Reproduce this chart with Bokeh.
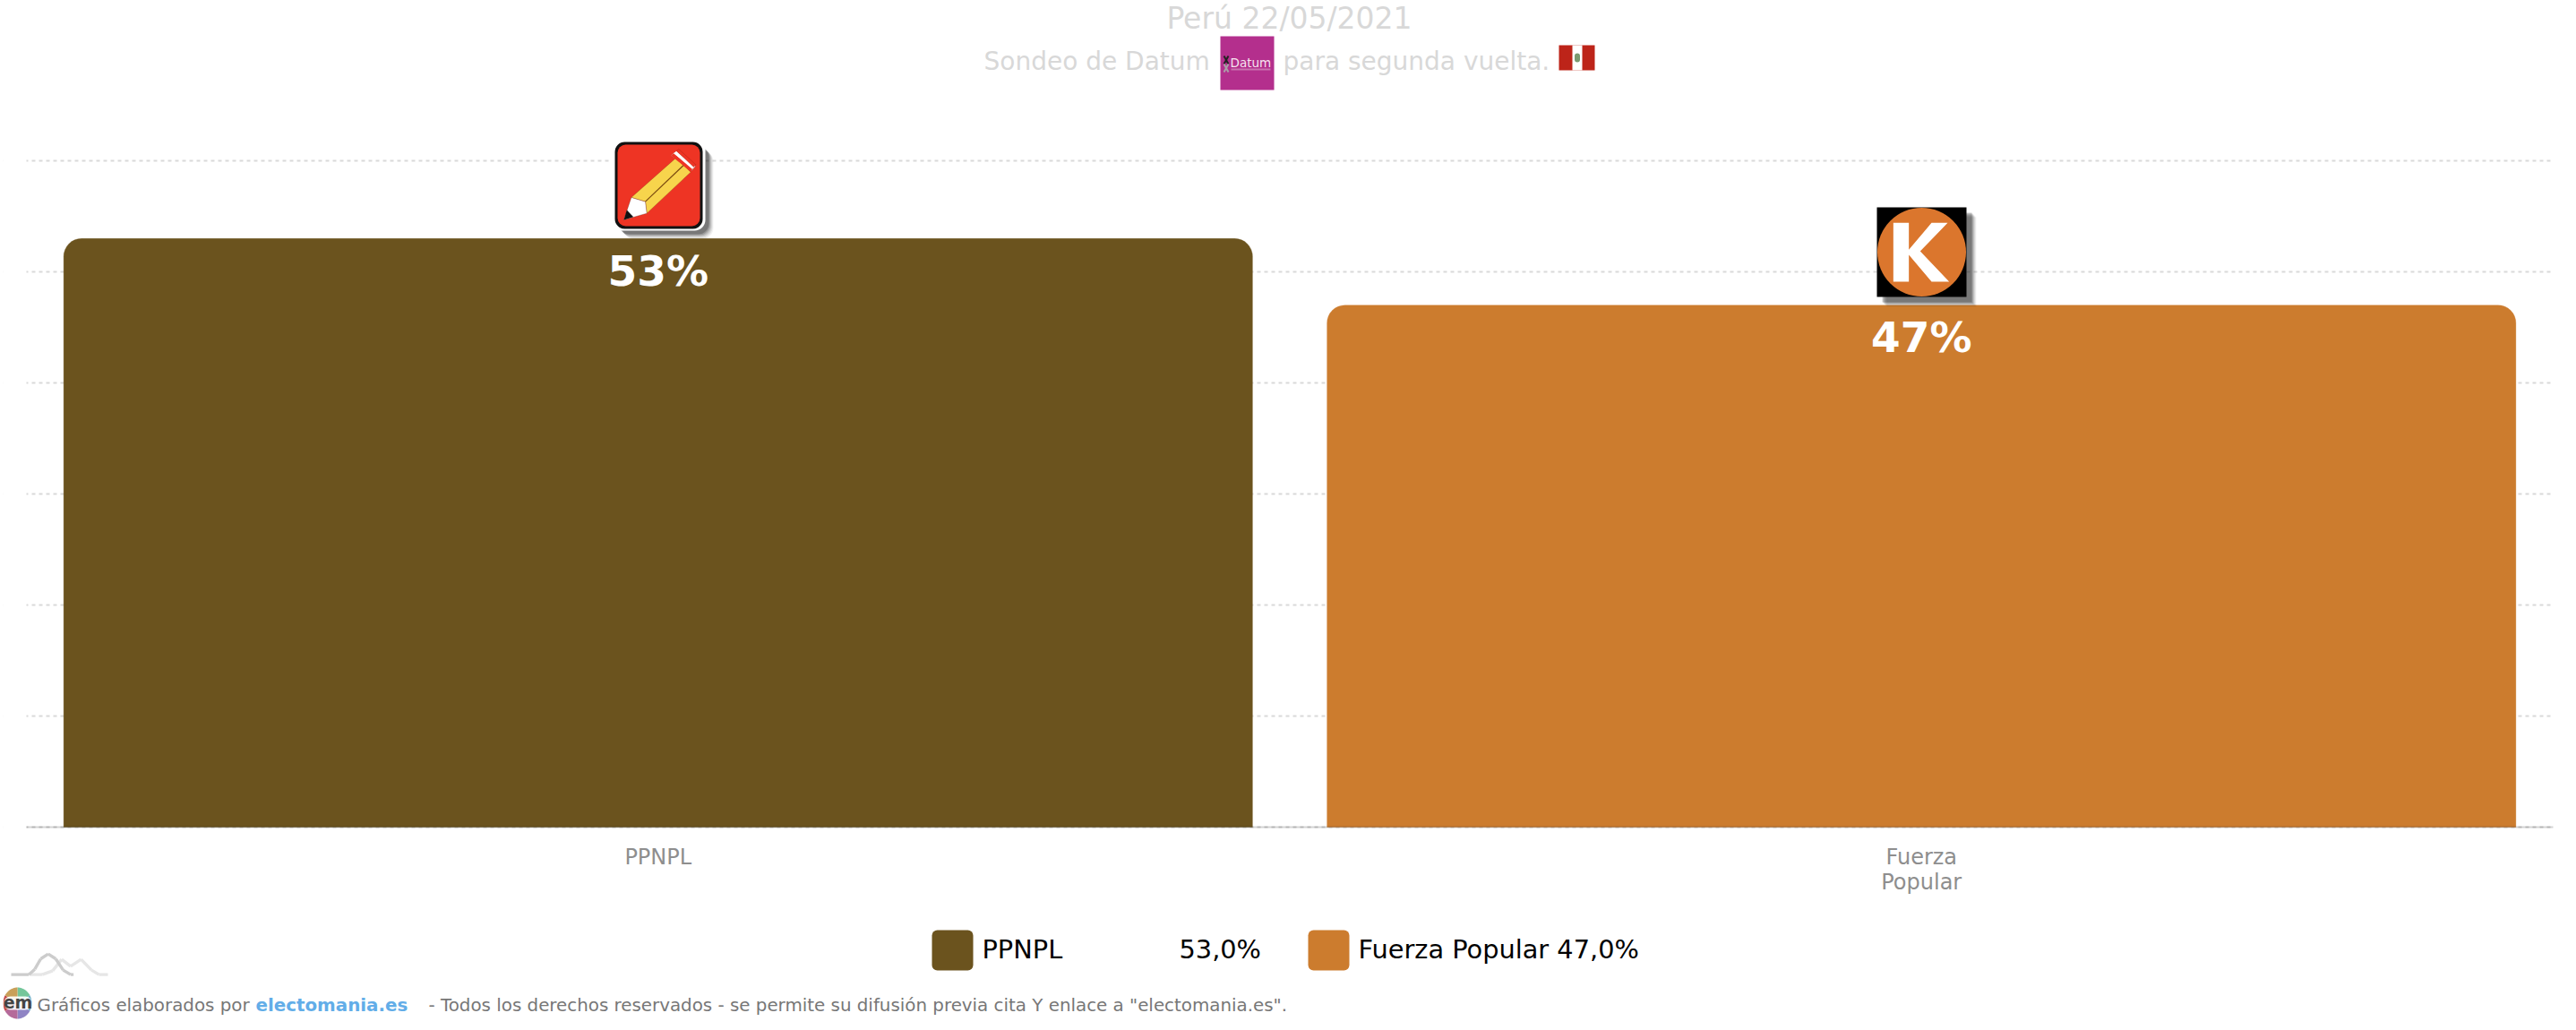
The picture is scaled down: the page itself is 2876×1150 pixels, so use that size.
import numpy as np
from bokeh.plotting import figure
from bokeh.embed import file_html
from bokeh.resources import INLINE
from bokeh.core.properties import value
from bokeh.models import (BoxAnnotation, ColumnDataSource, FixedTicker, FactorRange, Range1d, Label, PolyAnnotation)

categories = ["PPNPL", "Fuerza Popular"]
tick_labels = ["PPNPL", "Fuerza\nPopular"]
values = [53.0, 47.0]
colors = ["#6b531e", "#cc7c2e"]
y_ticks = [0, 10, 20, 30, 40, 50, 60]
title_text = "Perú 22/05/2021"
FONT = "DejaVu Sans"

W, H = 2876, 1146
BASE_Y, PX_PER_UNIT = 923, 12.4
p = figure(width=W, height=H, output_backend="svg", toolbar_location=None,
           x_range=FactorRange(factors=tick_labels, range_padding=0.018435, factor_padding=0),
           y_range=Range1d(-(H - BASE_Y) / PX_PER_UNIT, BASE_Y / PX_PER_UNIT),
           min_border_left=3, min_border_right=0, min_border_top=0, min_border_bottom=0)
p.outline_line_color = None
p.background_fill_color = "white"
p.yaxis.visible = False
p.xgrid.visible = False
p.ygrid.ticker = FixedTicker(ticks=y_ticks)
p.ygrid.grid_line_color = "#d9d9d9"
p.ygrid.grid_line_width = 2
p.ygrid.grid_line_dash = "4 4"
ax = p.xaxis[0]
ax.fixed_location = 0
ax.bounds = (0, 2)
ax.major_tick_line_color = None
ax.minor_tick_line_color = None
ax.axis_line_color = "black"
ax.axis_line_alpha = 0.17
ax.axis_line_width = 2
ax.major_label_text_color = "#8e8e8e"
ax.major_label_text_font = FONT
ax.major_label_text_font_size = "24px"
ax.major_label_text_line_height = 1.0
ax.major_label_standoff = 13

src = ColumnDataSource(dict(x=tick_labels, top=values, color=colors,
                            label=[f"{v:.0f}%" for v in values]))
p.vbar(x="x", top="top", bottom=0, width=0.941, fill_color="color", line_color="color", line_alpha=0.3,
       border_radius=(20, 20, 0, 0), source=src)
p.text(x="x", y="top", text="label", source=src, text_color="white", text_font=value(FONT),
       text_font_style="bold", text_font_size="47px", text_align="center", text_baseline="middle", y_offset=36)


def txt(s, x, y, size, color="black", align="left", style="normal"):
    p.add_layout(Label(x=x, y=y, x_units="canvas", y_units="canvas", text=s, text_font=FONT,
                       text_font_size=f"{size}px", text_color=color, text_align=align,
                       text_baseline="middle", text_font_style=style))


def box(l, t, r, b, color, alpha=1.0, radius=0, level="annotation"):
    p.add_layout(BoxAnnotation(left=l, right=r, top=t, bottom=b,
                               left_units="canvas", right_units="canvas", top_units="canvas", bottom_units="canvas",
                               fill_color=color, fill_alpha=alpha, line_color=None, border_radius=radius, level=level))


def poly(pts, color, alpha=1.0, line=None, lw=1):
    xs = [a for a, b in pts]
    ys = [b for a, b in pts]
    p.add_layout(PolyAnnotation(xs=xs, ys=ys, xs_units="canvas", ys_units="canvas", fill_color=color, fill_alpha=alpha,
                                line_color=line, line_width=lw))


def stroke(pts, color, w):
    for (x0, y0), (x1, y1) in zip(pts[:-1], pts[1:]):
        d = np.hypot(x1 - x0, y1 - y0)
        nx, ny = -(y1 - y0) / d * w / 2, (x1 - x0) / d * w / 2
        poly([(x0 + nx, y0 + ny), (x1 + nx, y1 + ny), (x1 - nx, y1 - ny), (x0 - nx, y0 - ny)], color)


def shadow(l, t, r, b, radius=0):
    for off, a in [(11, 0.05), (10, 0.07), (9, 0.09), (8, 0.12), (7, 0.15), (6, 0.2)]:
        box(l + off, t + off, r + off, b + off, "black", a, radius)


# white side masks: the grid stops short of the page edges
box(0, 170, 29, 930, "white", level="underlay")
box(2850, 170, W, 930, "white", level="underlay")

# titles
txt(title_text, 1439, 20, 33, "#d8d8d8", "center")
txt("Sondeo de Datum", 1098, 68, 28, "#d8d8d8")
txt("para segunda vuelta.", 1432, 68, 28, "#d8d8d8")
# Datum logo
box(1362, 40, 1422, 100, "#b42f8d")
stroke([(1366, 62), (1371, 71)], "#222222", 2)
stroke([(1371, 62), (1366, 71)], "#222222", 2)
stroke([(1366, 71), (1371, 80)], "#aaa0a8", 2)
stroke([(1371, 71), (1366, 80)], "#aaa0a8", 2)
txt("Datum", 1373, 69, 13.5, "#f6e4f0")
box(1374, 76, 1418, 78, "#d8a0c8", 0.6)
# flag
box(1740, 50, 1780, 78, "#bd2419")
box(1755, 50, 1766, 78, "white")
box(1757.5, 59, 1763.5, 69, "#7a9a70", 1, 3)

# pencil logo (coordinates from a 3x view of the mark)
PX = lambda pts: [(600 + a / 3, 140 + b / 3) for a, b in pts]
box(681, 153, 787, 258, "white", 1, 12)
shadow(684, 157, 785, 255, 12)
box(681, 153, 787, 257, "white", 1, 12)
box(686, 158, 784, 255, "#111111", 1, 11)
box(689, 161, 781, 252, "#ee3424", 1, 9)
poly(PX([(313, 240), (462, 108), (512, 155), (365, 293), (360, 254)]), "#f7d44c", 1, "#7a2a10", 1)
stroke(PX([(360, 254), (488, 132)]), "#7a4a10", 1.2)
poly(PX([(288, 315), (313, 240), (360, 254), (365, 293)]), "white", 1, "#5a2010", 1)
poly(PX([(288, 315), (298, 282), (320, 305)]), "#111111")
poly(PX([(446, 100), (458, 88), (528, 135), (516, 150)]), "white", 1, "#7a2a10", 1)
poly(PX([(446, 100), (455, 92), (520, 143), (512, 153)]), "#ee3424")
poly(PX([(456, 92), (464, 84), (524, 135), (517, 145)]), "white")
poly(PX([(464, 84), (472, 78), (529, 130), (522, 138)]), "#ee3424", 1, "#8a1a10", 1)

# K logo
shadow(2095, 231, 2195, 331)
box(2095, 231, 2195, 331, "black")
box(2095.5, 231.5, 2194.5, 330.5, "#db762d", 1, 50)
poly([(2000 + a / 3, 210 + b / 3) for a, b in [(340, 115), (392, 115), (392, 205), (468, 115), (522, 115), (430, 210),
                                               (527, 312), (468, 312), (392, 222), (392, 312), (340, 312)]], "white")

# legend
lx = [1040, 1460]
for x0, c in zip(lx, colors):
    box(x0, 1038, x0 + 46, 1083, c, 1, 6)
fmt = [f"{v:.1f}".replace(".", ",") + "%" for v in values]
txt(categories[0], 1096, 1059, 28.8)
txt(fmt[0], 1316, 1059, 28.8)
txt(f"{categories[1]} {fmt[1]}", 1516, 1059, 28.8)

# mountain mark
Z = lambda pts: [(a / 3, 1050 + b / 3) for a, b in pts]
stroke(Z([(100, 113), (140, 113), (175, 100), (205, 62), (235, 85), (270, 62), (305, 98), (330, 113), (360, 113)]), "#e6e6e6", 3.4)
stroke(Z([(36, 113), (95, 113), (115, 95), (135, 60), (160, 44), (185, 60), (210, 98), (235, 113), (245, 113)]), "#cccccc", 3.4)

# em mark
ang = np.linspace(0, 2 * np.pi, 7)
sector_colors = ["#74c69a", "#6fb0c8", "#8f84c4", "#b56a9a", "#c24a4a", "#c9a05a"]
for a0, a1, c in zip(ang[:-1], ang[1:], sector_colors):
    t = np.linspace(a0, a1, 14)
    poly([(19, 1119.5)] + [(19 + 16 * np.sin(u), 1119.5 - 17.5 * np.cos(u)) for u in t], c)
box(4, 1112, 35, 1127, "white", 0.9, 7)
txt("em", 19.5, 1118, 19, "#444444", "center", "bold")

# footer
txt("Gráficos elaborados por", 41, 1122, 19.85, "#777777")
txt("electomania.es", 285, 1122, 19.85, "#62ade8", "left", "bold")
txt('- Todos los derechos reservados - se permite su difusión previa cita Y enlace a "electomania.es".', 478, 1122, 19.85, "#777777")

open("out.html", "w").write(file_html(p, INLINE))
